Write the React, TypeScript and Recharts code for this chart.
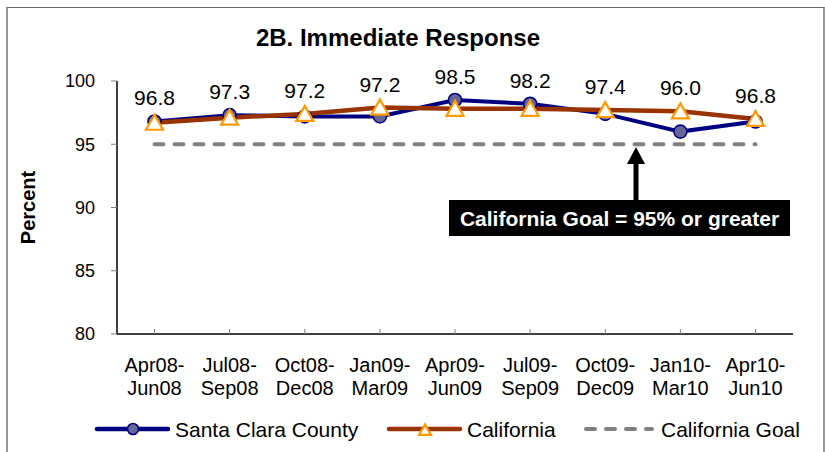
import React from 'react';
import { LineChart, Line, XAxis, YAxis, LabelList } from 'recharts';

const periods = [
  'Apr08-Jun08', 'Jul08-Sep08', 'Oct08-Dec08', 'Jan09-Mar09', 'Apr09-Jun09',
  'Jul09-Sep09', 'Oct09-Dec09', 'Jan10-Mar10', 'Apr10-Jun10',
];
const santaClara = [96.8, 97.3, 97.2, 97.2, 98.5, 98.2, 97.4, 96.0, 96.8];
const california = [96.7, 97.1, 97.4, 97.9, 97.8, 97.8, 97.7, 97.6, 97.0];
const goal = [95, 95, 95, 95, 95, 95, 95, 95, 95];
const yTicks = [80, 85, 90, 95, 100];

const FONT = "'Liberation Sans', Arial, sans-serif";
const NAVY = '#000080';
const BROWN = '#993300';
const ORANGE = '#FF9900';
const GRAY = '#808080';

// plot height in px over the 80..100 domain, used to keep labels clear of the California markers
const PX_PER_UNIT = (452 - 81 - 118) / 20;

const data = periods.map((p, i) => ({
  period: p,
  santaClara: santaClara[i],
  california: california[i],
  goal: goal[i],
}));

const CircleDot = (props: any) => {
  const { cx, cy, size = 6.5 } = props;
  if (cx == null || cy == null) return null;
  return <circle cx={cx} cy={cy} r={size} fill="#666699" stroke={NAVY} strokeWidth={1.6} />;
};

const TriangleDot = (props: any) => {
  const { cx, cy, s = 1 } = props;
  if (cx == null || cy == null) return null;
  return (
    <path
      d={`M${cx},${cy - 8 * s} L${cx + 8.5 * s},${cy + 7 * s} L${cx - 8.5 * s},${cy + 7 * s} Z`}
      fill="#fff"
      stroke={ORANGE}
      strokeWidth={2.2}
    />
  );
};

const PeriodTick = (props: any) => {
  const { x, y, payload } = props;
  const s = String(payload.value);
  const cut = s.indexOf('-') + 1;
  return (
    <g>
      <line x1={x} x2={x} y1={y} y2={y - 5} stroke={GRAY} strokeWidth={1} />
      <text x={x} y={y} textAnchor="middle" fontFamily={FONT} fontSize={20} fill="#000">
        <tspan x={x} dy={38}>{s.slice(0, cut)}</tspan>
        <tspan x={x} dy={23}>{s.slice(cut)}</tspan>
      </text>
    </g>
  );
};

const ValueLabel = (p: any) => {
  const i = p.index ?? 0;
  const diff = Math.max(0, california[i] - santaClara[i]) * PX_PER_UNIT;
  const top = p.y - diff;
  return (
    <text x={p.x} y={top - 16} textAnchor="middle" fontFamily={FONT} fontSize={21} fill="#000">
      {Number(p.value).toFixed(1)}
    </text>
  );
};

const legendItems = [
  { name: 'Santa Clara County', color: NAVY, kind: 'circle', x: 97 },
  { name: 'California', color: BROWN, kind: 'triangle', x: 389 },
  { name: 'California Goal', color: GRAY, kind: 'dash', x: 583 },
];

export default function App() {
  return (
    <div style={{ position: 'absolute', left: 0, top: 0, width: 825, height: 452, background: '#fff', overflow: 'hidden' }}>
      <div
        style={{
          position: 'absolute', left: 6, top: 7, width: 815, height: 460,
          borderTop: '1px solid #666', borderLeft: '2px solid #999', borderRight: '2px solid #999',
        }}
      />
      <div style={{ position: 'absolute', left: 0, top: 0 }}>
        <LineChart width={825} height={452} data={data} margin={{ top: 81, right: 32, left: 0, bottom: 58 }}>
          <XAxis
            dataKey="period"
            interval={0}
            height={60}
            tickSize={0}
            tickMargin={0}
            tickLine={false}
            axisLine={{ stroke: '#000', strokeWidth: 1.5 }}
            padding={{ left: 37.5, right: 37.5 }}
            tick={<PeriodTick />}
          />
          <YAxis
            width={117}
            domain={[80, 100]}
            ticks={yTicks}
            interval={0}
            tickSize={6}
            tickMargin={16}
            tickLine={{ stroke: GRAY }}
            axisLine={{ stroke: '#000', strokeWidth: 1.5 }}
            tick={{ fill: '#000', fontSize: 18, fontFamily: FONT }}
            label={{
              content: (p: any) => {
                const vb = p.viewBox || {};
                const cx = 28;
                const cy = (vb.y ?? 81) + (vb.height ?? 253) / 2;
                return (
                  <text
                    x={cx}
                    y={cy}
                    transform={`rotate(-90 ${cx} ${cy})`}
                    textAnchor="middle"
                    dominantBaseline="central"
                    fontFamily={FONT}
                    fontWeight="bold"
                    fontSize={20}
                    fill="#000"
                  >
                    Percent
                  </text>
                );
              },
            }}
          />
          <Line
            dataKey="santaClara"
            stroke={NAVY}
            strokeWidth={4}
            dot={<CircleDot />}
            activeDot={false}
            isAnimationActive={false}
          >
            <LabelList dataKey="santaClara" content={<ValueLabel />} />
          </Line>
          <Line
            dataKey="california"
            stroke={BROWN}
            strokeWidth={4.5}
            dot={<TriangleDot />}
            activeDot={false}
            isAnimationActive={false}
          />
          <Line
            dataKey="goal"
            stroke={GRAY}
            strokeWidth={4}
            strokeDasharray="9 11"
            strokeLinecap="round"
            dot={false}
            activeDot={false}
            isAnimationActive={false}
          />
        </LineChart>
      </div>
      <svg
        width={825}
        height={452}
        style={{ position: 'absolute', left: 0, top: 0, pointerEvents: 'none' }}
      >
        <text x={398} y={46} textAnchor="middle" fontFamily={FONT} fontWeight="bold" fontSize={24} fill="#000">
          2B. Immediate Response
        </text>
        {/* goal annotation */}
        <line x1={636} x2={636} y1={201} y2={160} stroke="#000" strokeWidth={5} />
        <path d="M636,147 L645,164 L627,164 Z" fill="#000" />
        <rect x={449} y={200} width={341} height={36} fill="#000" />
        <text x={619.5} y={225.5} textAnchor="middle" fontFamily={FONT} fontWeight="bold" fontSize={21} fill="#fff">
          California Goal = 95% or greater
        </text>
        {/* legend */}
        {legendItems.map((it) => {
          const mid = it.x + 36;
          return (
            <g key={it.name}>
              {it.kind === 'dash' ? (
                <line
                  x1={it.x + 3} x2={it.x + 69} y1={429} y2={429}
                  stroke={it.color} strokeWidth={4} strokeDasharray="9 11" strokeLinecap="round"
                />
              ) : (
                <line x1={it.x} x2={it.x + 71} y1={429} y2={429} stroke={it.color} strokeWidth={4.5} strokeLinecap="round" />
              )}
              {it.kind === 'circle' && <CircleDot cx={mid} cy={429} size={5.5} />}
              {it.kind === 'triangle' && <TriangleDot cx={mid} cy={430} s={0.7} />}
              <text x={it.x + 78} y={436.5} fontFamily={FONT} fontSize={21} fill="#000">
                {it.name}
              </text>
            </g>
          );
        })}
      </svg>
    </div>
  );
}
